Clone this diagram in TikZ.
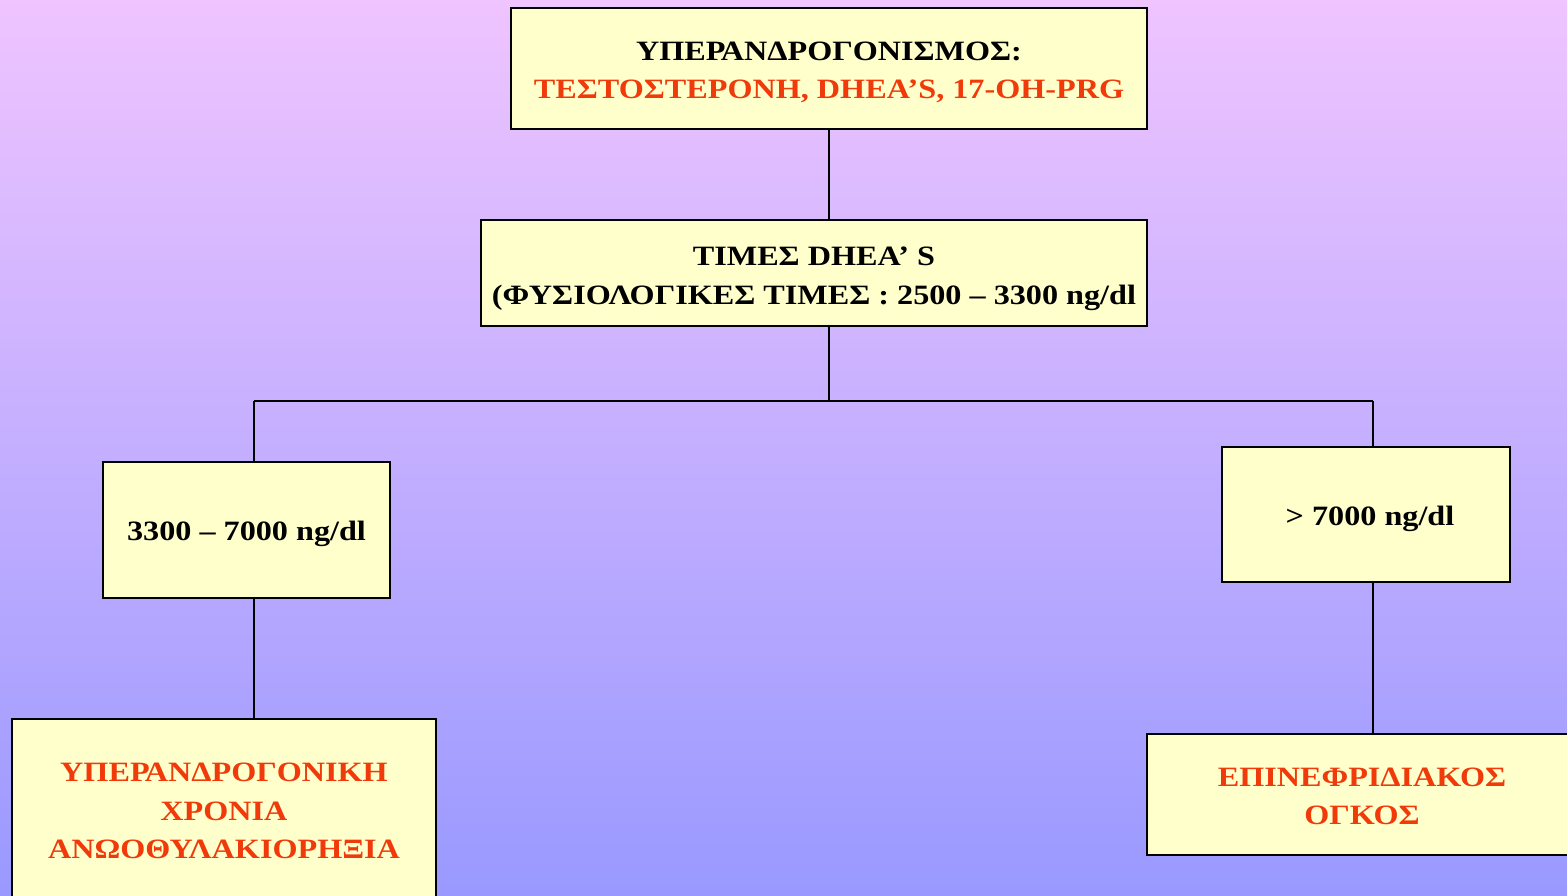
\documentclass[tikz,border=0pt]{standalone}
\usepackage{fontspec}
\setmainfont{Liberation Serif}[FakeStretch=1.15]
\definecolor{bgtop}{RGB}{239,196,255}
\definecolor{bgbot}{RGB}{153,153,255}
\definecolor{boxfill}{RGB}{255,255,204}
\definecolor{redtxt}{RGB}{240,58,10}
\begin{document}
\begin{tikzpicture}[x=1pt,y=-1pt,
  box/.style={draw=black,fill=boxfill,line width=1.6pt},
  txt/.style={align=center,inner sep=0pt,font=\fontsize{28}{38.5}\selectfont\bfseries},
  link/.style={draw=black,line width=1.4pt}]
\useasboundingbox (0,0) rectangle (1567,895);
\clip (0,0) rectangle (1567,895);
\shade[top color=bgtop,bottom color=bgbot] (0,0) rectangle (1567,895);
\node[box,minimum width=636pt,minimum height=121pt] (top) at (829,68.5) {};
\node[txt] (toptxt) at (829,72.5)
  {ΥΠΕΡΑΝΔΡΟΓΟΝΙΣΜΟΣ:\\\textcolor{redtxt}{ΤΕΣΤΟΣΤΕΡΟΝΗ, DHEA’S, 17-OH-PRG}};
\node[box,minimum width=666pt,minimum height=106pt] (sec) at (814,273) {};
\node[txt] (sectxt) at (814,279)
  {ΤΙΜΕΣ DHEA’ S\\(ΦΥΣΙΟΛΟΓΙΚΕΣ ΤΙΜΕΣ : 2500 – 3300 ng/dl};
\node[box,minimum width=287pt,minimum height=136pt] (lm) at (246.5,530) {};
\node[txt] (lmtxt) at (246.5,534) {3300 – 7000 ng/dl};
\node[box,minimum width=288pt,minimum height=135pt] (rm) at (1366,514.5) {};
\node[txt] (rmtxt) at (1370,518.5) {> 7000 ng/dl};
\node[box,minimum width=424pt,minimum height=182pt] (bl) at (224,810) {};
\node[txt,text=redtxt] (bltxt) at (224,811) {ΥΠΕΡΑΝΔΡΟΓΟΝΙΚΗ\\ΧΡΟΝΙΑ\\ΑΝΩΟΘΥΛΑΚΙΟΡΗΞΙΑ};
\node[box,minimum width=430pt,minimum height=121pt] (br) at (1362,794.5) {};
\node[txt,text=redtxt] (brtxt) at (1362,796.5) {ΕΠΙΝΕΦΡΙΔΙΑΚΟΣ\\ΟΓΚΟΣ};
\coordinate (j) at (829,401);
\coordinate (cl) at (254,401);
\coordinate (cr) at (1373,401);
\draw[link] (top.south) -- (top.south |- sec.north);
\draw[link] (sec.south -| j) -- (j);
\draw[link] (cl) -- (cr);
\draw[link] (cl) -- (cl |- lm.north);
\draw[link] (cr) -- (cr |- rm.north);
\draw[link] (lm.south -| cl) -- (cl |- bl.north);
\draw[link] (rm.south -| cr) -- (cr |- br.north);
\end{tikzpicture}
\end{document}
